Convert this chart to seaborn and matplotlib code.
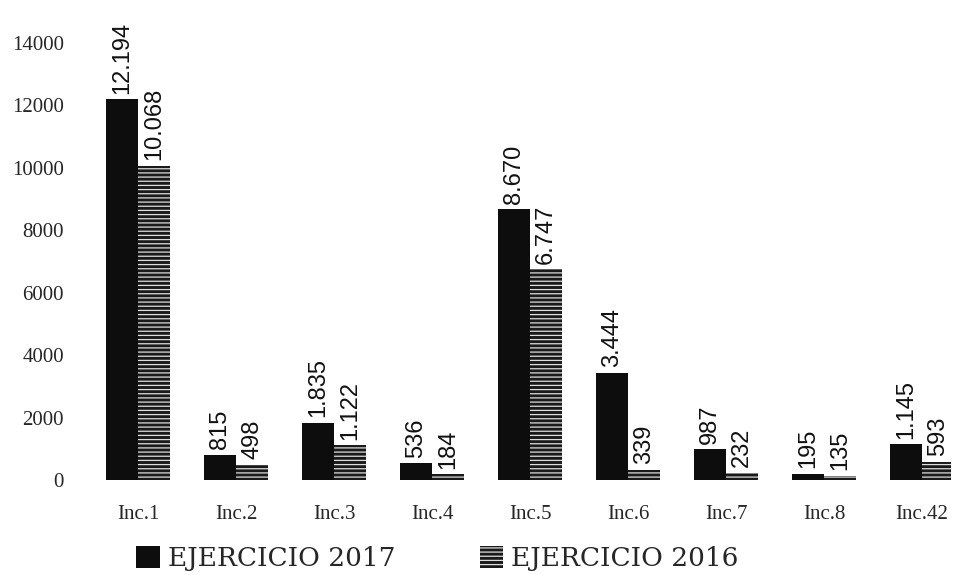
import matplotlib
matplotlib.use("Agg")
import matplotlib.pyplot as plt
import seaborn as sns
import pandas as pd

categories = ["Inc.1", "Inc.2", "Inc.3", "Inc.4", "Inc.5", "Inc.6", "Inc.7", "Inc.8", "Inc.42"]
series_names = ["EJERCICIO 2017", "EJERCICIO 2016"]
values_2017 = [12194, 815, 1835, 536, 8670, 3444, 987, 195, 1145]
values_2016 = [10068, 498, 1122, 184, 6747, 339, 232, 135, 593]
yticks = [0, 2000, 4000, 6000, 8000, 10000, 12000, 14000]

df = pd.DataFrame({
    "cat": categories * 2,
    "serie": [series_names[0]] * len(categories) + [series_names[1]] * len(categories),
    "valor": values_2017 + values_2016,
})

sns.set_style("white")
plt.rcParams["hatch.linewidth"] = 0.9

fig = plt.figure(figsize=(9.61, 5.75), dpi=100)
ax = fig.add_axes([0.11, 0.165, 0.88, 0.826])

sns.barplot(data=df, x="cat", y="valor", hue="serie", order=categories,
            hue_order=series_names, palette=["#0d0d0d", "#262626"],
            width=0.66, gap=0, saturation=1, errorbar=None, legend=False, ax=ax)

for p in ax.containers[0].patches:
    p.set_edgecolor("#0d0d0d")
    p.set_linewidth(0)
for p in ax.containers[1].patches:
    p.set_facecolor("#1a1a1a")
    p.set_edgecolor("#dddddd")
    p.set_hatch("----")
    p.set_linewidth(0)

def fmt(v):
    return f"{int(v):,}".replace(",", ".")

for cont, vals in zip(ax.containers, [values_2017, values_2016]):
    ax.bar_label(cont, labels=[fmt(v) for v in vals], rotation=90, padding=4,
                 fontsize=17, family="Liberation Sans", color="#111111")

ax.set_ylim(0, 15200)
ax.set_xlim(-0.33, 8.3)
ax.set_yticks(yticks)
ax.set_yticklabels([str(t) for t in yticks], family="Liberation Serif", fontsize=15)
ax.set_xticks(range(len(categories)))
ax.set_xticklabels(categories, family="Liberation Serif", fontsize=15)
ax.tick_params(axis="both", length=0)
ax.tick_params(axis="x", pad=18)
ax.tick_params(axis="y", pad=30)
ax.set_xlabel("")
ax.set_ylabel("")
for s in ax.spines.values():
    s.set_visible(False)

handles = [ax.containers[0].patches[0], ax.containers[1].patches[0]]
leg = fig.legend(handles, series_names, loc="lower center", bbox_to_anchor=(0.455, -0.035),
                 ncol=2, frameon=False, prop={"family": "DejaVu Serif", "size": 19},
                 handlelength=0.9, handleheight=0.9, handletextpad=0.3, columnspacing=3.2)

fig.savefig("out.png", dpi=100)
